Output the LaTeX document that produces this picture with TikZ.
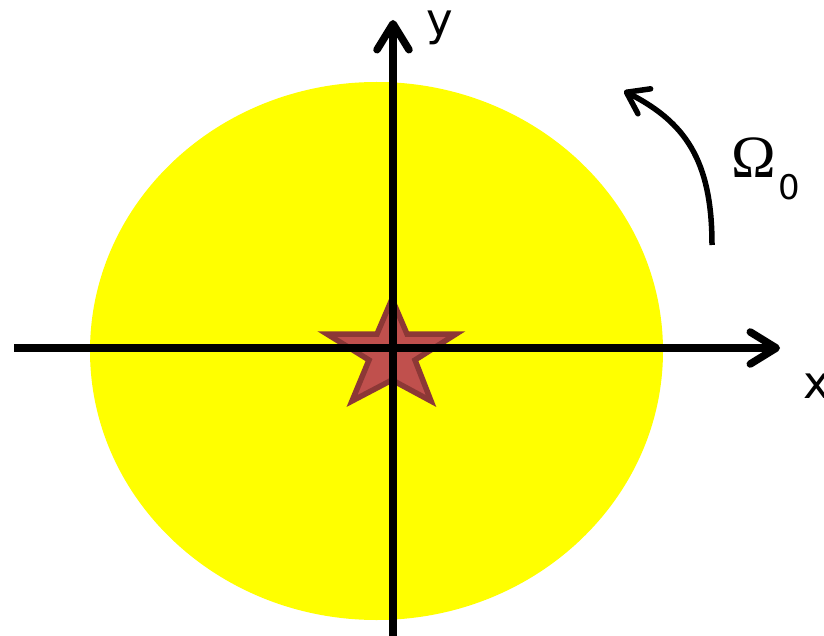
\documentclass[tikz,border=0pt]{standalone}
\usepackage{fontspec}
\setmainfont{DejaVu Sans}
\newfontfamily\omegafont{Liberation Serif}
\usetikzlibrary{arrows.meta}
\definecolor{discyellow}{HTML}{FFFF00}
\definecolor{starfill}{HTML}{C0504D}
\definecolor{starborder}{HTML}{8C3836}
\tikzset{
  axisline/.style={line width=7.5pt, line cap=butt,
    -{Straight Barb[length=26pt,width=32pt,line cap=round,line join=round]}},
  rotarrow/.style={line width=5.5pt,
    -{Straight Barb[length=20pt,width=28pt,line cap=round,line join=round]}},
  axislabel/.style={inner sep=0pt, font=\fontsize{45}{50}\selectfont},
}
\begin{document}
\begin{tikzpicture}[x=1pt,y=-1pt]
\useasboundingbox (0,0) rectangle (824,636);
% disc
\fill[discyellow] (376.5,351) ellipse [x radius=286.5, y radius=269];
% star
\filldraw[fill=starfill, draw=starborder, line width=5.5pt, line join=miter]
  (392,299) -- (407,334) -- (456,334) -- (415,360) -- (431,401) -- (392,380)
  -- (352,401) -- (369,360) -- (327,334) -- (377,334) -- cycle;
% axes
\coordinate (xstart) at (14,348);
\coordinate (xend) at (780,348);
\coordinate (ystart) at (393,640);
\coordinate (yend) at (393,20);
\draw[axisline] (xstart) -- (xend);
\draw[axisline] (ystart) -- (yend);
\node[axislabel] (ylab) at (440,28) {y};
\node[axislabel] (xlab) at (817,386) {x};
% rotation arrow
\coordinate (rotstart) at (712,245);
\coordinate (rotend) at (624,91);
\draw[rotarrow] (rotstart) .. controls (712,160) and (685,122) .. (rotend);
\node[inner sep=0pt, font=\omegafont\fontsize{60}{62}\selectfont] (omega) at (754,158) {Ω};
\node[inner sep=0pt, font=\fontsize{34}{36}\selectfont] (zero) at (789,187) {0};
\end{tikzpicture}
\end{document}
